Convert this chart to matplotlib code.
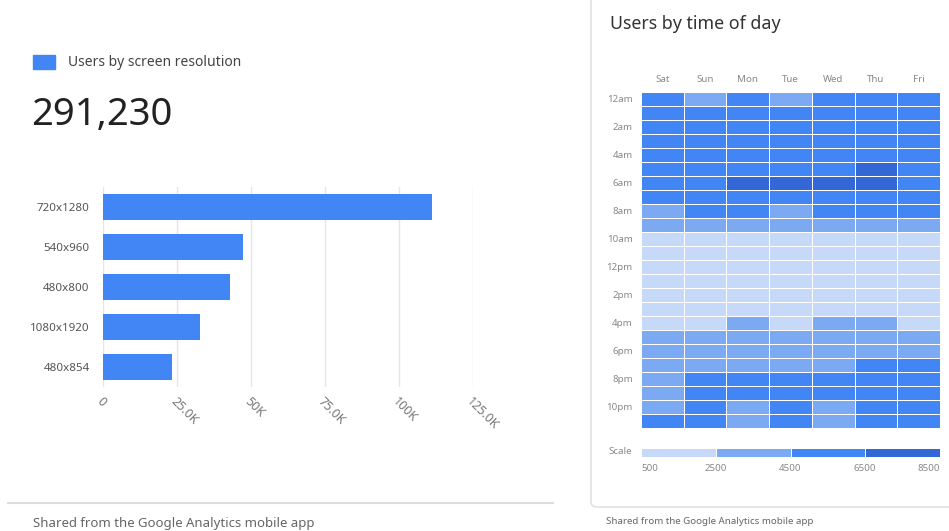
import numpy as np
import matplotlib
matplotlib.use("Agg")
import matplotlib.pyplot as plt
from matplotlib.colors import ListedColormap, BoundaryNorm
from matplotlib.patches import FancyBboxPatch, Rectangle
from matplotlib.lines import Line2D

plt.rcParams['font.family'] = ['Noto Sans', 'DejaVu Sans']

# Users by screen resolution
resolutions = ["720x1280", "540x960", "480x800", "1080x1920", "480x854"]
users = [111000, 47300, 42900, 32800, 23300]
total_users = "291,230"
xticks = [0, 25000, 50000, 75000, 100000, 125000]
xtick_labels = ["0", "25.0K", "50K", "75.0K", "100K", "125.0K"]

# Users by time of day
days = ["Sat", "Sun", "Mon", "Tue", "Wed", "Thu", "Fri"]
hour_labels = ["12am", "", "2am", "", "4am", "", "6am", "", "8am", "", "10am", "",
               "12pm", "", "2pm", "", "4pm", "", "6pm", "", "8pm", "", "10pm", ""]
hourly = np.array([
    [5200, 4100, 5300, 4200, 5400, 5200, 5100],
    [5600, 5000, 5700, 5500, 5800, 5900, 5600],
    [5900, 5400, 6000, 5900, 6100, 6200, 5900],
    [6000, 5600, 6100, 6000, 6200, 6300, 6000],
    [6000, 5700, 6200, 6100, 6300, 6400, 6100],
    [5900, 5600, 6400, 6300, 6400, 6700, 6100],
    [5700, 5500, 6800, 6700, 6800, 6900, 6000],
    [5100, 5000, 6000, 5900, 6100, 6200, 5600],
    [4300, 4600, 5200, 4400, 5100, 5000, 4900],
    [3200, 3400, 3600, 3500, 3600, 3500, 3400],
    [1900, 2000, 2100, 2000, 2100, 2100, 2000],
    [1400, 1500, 1600, 1500, 1600, 1600, 1500],
    [1200, 1300, 1400, 1300, 1400, 1400, 1300],
    [1300, 1400, 1500, 1400, 1500, 1500, 1400],
    [1500, 1600, 1700, 1600, 1700, 1700, 1600],
    [1800, 1900, 2100, 2000, 2100, 2200, 1900],
    [2300, 2400, 2600, 2400, 2700, 2600, 2300],
    [3100, 3200, 3400, 3300, 3500, 3500, 3200],
    [3600, 3700, 3900, 3800, 4000, 4100, 3700],
    [4000, 4200, 4300, 4200, 4400, 4600, 4600],
    [4300, 4700, 4800, 4700, 4900, 5100, 4900],
    [4400, 4900, 4900, 4800, 5000, 5200, 5000],
    [4400, 4800, 4400, 4700, 4400, 5000, 4900],
    [4600, 4800, 4300, 4700, 4300, 4900, 4800],
])
scale_bounds = [500, 2500, 4500, 6500, 8500]
scale_colors = ["#c6d9f8", "#7baaf2", "#4285f4", "#3367d6"]

W, H = 949, 531
fig = plt.figure(figsize=(W / 100, H / 100), dpi=100)
fig.patch.set_facecolor("white")


def px_axes(x0, y0, x1, y1):
    return fig.add_axes([x0 / W, 1 - y1 / H, (x1 - x0) / W, (y1 - y0) / H])


def ftext(x, y, s, **kw):
    fig.text(x / W, 1 - y / H, s, **kw)


# ---- left panel ----
fig.patches.append(Rectangle((33 / W, 1 - 69 / H), 22 / W, 14 / H,
                             transform=fig.transFigure, color="#4285f4"))
ftext(68, 62, "Users by screen resolution", fontsize=10, color="#444", va="center")
ftext(31, 115, total_users, fontsize=27.5, color="#222", va="center")

ax = px_axes(103, 187, 473, 387)
ypos = np.arange(len(resolutions))
ax.barh(ypos, users, height=0.63, color="#4285f4", zorder=3)
ax.set_xlim(0, 125000)
ax.set_ylim(len(resolutions) - 0.5, -0.5)
ax.set_yticks(ypos)
ax.set_yticklabels(resolutions, fontsize=8.3, color="#555")
ax.set_xticks(xticks)
ax.set_xticklabels(xtick_labels, fontsize=9, color="#777", rotation=-45,
                   ha="left", rotation_mode="anchor")
ax.tick_params(axis="y", length=0, pad=9.5)
ax.tick_params(axis="x", length=0, pad=6)
ax.grid(axis="x", color="#e6e6e6", lw=1, zorder=0)
for s in ax.spines.values():
    s.set_visible(False)

fig.lines.append(Line2D([8 / W, 553 / W], [1 - 503 / H] * 2,
                        transform=fig.transFigure, color="#dddddd", lw=1.5))
ftext(33, 524, "Shared from the Google Analytics mobile app", fontsize=9.5,
      color="#666", va="center")

# ---- right panel (card) ----
card = FancyBboxPatch((591 / W, 1 - 507 / H), 370 / W, 520 / H,
                      boxstyle="round,pad=0,rounding_size=0.008",
                      transform=fig.transFigure, facecolor="white",
                      edgecolor="#e2e2e2", lw=1.2, zorder=-1)
fig.patches.append(card)
ftext(610, 24, "Users by time of day", fontsize=12.8, color="#333", va="center")

cmap = ListedColormap(scale_colors)
norm = BoundaryNorm(scale_bounds, cmap.N)

hax = px_axes(641, 92, 940, 428)
hax.set_facecolor("none")
hax.pcolormesh(hourly, cmap=cmap, norm=norm, edgecolors="white", linewidth=0.5)
hax.set_xlim(0, len(days))
hax.set_ylim(len(hourly), 0)
hax.set_xticks(np.arange(len(days)) + 0.5)
hax.set_xticklabels(days, fontsize=7, color="#888")
hax.xaxis.tick_top()
hax.set_yticks(np.arange(len(hourly)) + 0.5)
hax.set_yticklabels(hour_labels, fontsize=7, color="#888")
hax.tick_params(length=0, pad=6)
for s in hax.spines.values():
    s.set_visible(False)

sax = px_axes(641, 448, 940, 457)
sax.set_facecolor("none")
sax.pcolormesh(np.array([[1500, 3500, 5500, 7500]]), cmap=cmap, norm=norm,
               edgecolors="white", linewidth=0.5)
sax.set_xlim(0, 4)
sax.set_ylim(0, 1)
sax.set_xticks(np.arange(5))
sax.set_xticklabels([str(b) for b in scale_bounds], fontsize=7, color="#888")
labs = sax.get_xticklabels()
labs[0].set_ha("left")
labs[-1].set_ha("right")
sax.set_yticks([])
sax.tick_params(length=0, pad=5)
for s in sax.spines.values():
    s.set_visible(False)
ftext(632, 452, "Scale", fontsize=7, color="#888", va="center", ha="right")

ftext(606, 522, "Shared from the Google Analytics mobile app", fontsize=7,
      color="#666", va="center")

fig.savefig("out.png", dpi=100, facecolor="white")
